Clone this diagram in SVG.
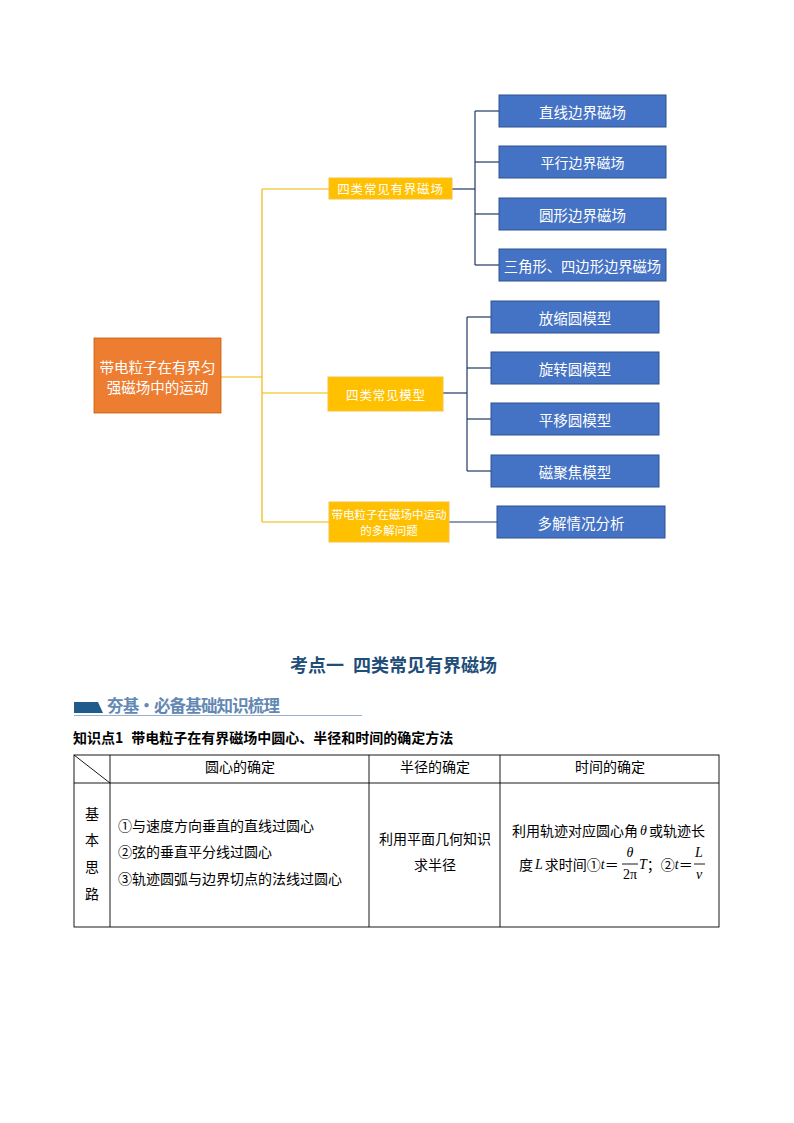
<svg xmlns="http://www.w3.org/2000/svg" width="794" height="1123" viewBox="0 0 794 1123">
<style>
  .cjk { font-family: "Noto Sans CJK SC", "Noto Sans", sans-serif; }
  .blue rect { fill: #4472C4; stroke: #2F528F; stroke-width: 1; }
  .yel rect { fill: #FFC000; stroke: #F5C242; stroke-width: 1; }
  .org rect { fill: #ED7D31; stroke: #C55A11; stroke-width: 0.8; }
  .nt { fill: #FFFFFF; text-anchor: middle; dominant-baseline: central; }
  .yl { stroke: #F2B705; stroke-width: 1.2; fill: none; }
  .dl { stroke: #1F3864; stroke-width: 1.2; fill: none; }
  .tl { stroke: #000000; stroke-width: 0.9; fill: none; }
  .tt { fill: #000000; font-size: 14px; dominant-baseline: central; }
  .mid { text-anchor: middle; }
  .it { font-family: "Liberation Serif", "DejaVu Serif", serif; font-style: italic; }
</style>
<rect width="794" height="1123" fill="#FFFFFF"/>

<g id="connectors">
  <polyline class="yl" points="221,377 262,377"/>
  <line class="yl" x1="262" y1="189" x2="262" y2="522"/>
  <line class="yl" x1="262" y1="189" x2="329" y2="189"/>
  <line class="yl" x1="262" y1="393" x2="328" y2="393"/>
  <line class="yl" x1="262" y1="522" x2="329" y2="522"/>

  <line class="dl" x1="452" y1="189" x2="475" y2="189"/>
  <line class="dl" x1="475" y1="111" x2="475" y2="265"/>
  <line class="dl" x1="475" y1="111" x2="499" y2="111"/>
  <line class="dl" x1="475" y1="162" x2="499" y2="162"/>
  <line class="dl" x1="475" y1="214" x2="499" y2="214"/>
  <line class="dl" x1="475" y1="265" x2="499" y2="265"/>

  <line class="dl" x1="443" y1="393" x2="467" y2="393"/>
  <line class="dl" x1="467" y1="317" x2="467" y2="471"/>
  <line class="dl" x1="467" y1="317" x2="491" y2="317"/>
  <line class="dl" x1="467" y1="368" x2="491" y2="368"/>
  <line class="dl" x1="467" y1="419" x2="491" y2="419"/>
  <line class="dl" x1="467" y1="471" x2="491" y2="471"/>

  <line class="dl" x1="449" y1="522" x2="497" y2="522"/>
</g>

<g id="root" class="org cjk">
  <rect x="94" y="338" width="127" height="75"/>
  <text class="nt" x="157.5" y="366" font-size="14.5">带电粒子在有界匀</text>
  <text class="nt" x="157.5" y="386" font-size="14.5">强磁场中的运动</text>
</g>

<g id="cat1" class="yel cjk">
  <rect x="329" y="178" width="123" height="21"/>
  <text class="nt" x="390.5" y="188.5" font-size="12.5" letter-spacing="0.8">四类常见有界磁场</text>
</g>
<g id="cat2" class="yel cjk">
  <rect x="328" y="377" width="115" height="34"/>
  <text class="nt" x="386" y="394" font-size="12.5" letter-spacing="0.8">四类常见模型</text>
</g>
<g id="cat3" class="yel cjk">
  <rect x="329" y="502" width="120" height="40"/>
  <text class="nt" x="389" y="514" font-size="11.5">带电粒子在磁场中运动</text>
  <text class="nt" x="389" y="530" font-size="11.5">的多解问题</text>
</g>

<g id="b1" class="blue cjk">
  <rect x="499" y="95" width="167" height="32"/>
  <text class="nt" x="582.5" y="111" font-size="14.5">直线边界磁场</text>
</g>
<g id="b2" class="blue cjk">
  <rect x="499" y="146" width="167" height="32"/>
  <text class="nt" x="582.5" y="162" font-size="14">平行边界磁场</text>
</g>
<g id="b3" class="blue cjk">
  <rect x="499" y="198" width="167" height="32"/>
  <text class="nt" x="582.5" y="214" font-size="14.5">圆形边界磁场</text>
</g>
<g id="b4" class="blue cjk">
  <rect x="499" y="249" width="167" height="32"/>
  <text class="nt" x="582.5" y="265" font-size="14.3">三角形、四边形边界磁场</text>
</g>

<g id="m1" class="blue cjk">
  <rect x="491" y="301" width="168" height="32"/>
  <text class="nt" x="575" y="317" font-size="14.5">放缩圆模型</text>
</g>
<g id="m2" class="blue cjk">
  <rect x="491" y="352" width="168" height="32"/>
  <text class="nt" x="575" y="368" font-size="14.5">旋转圆模型</text>
</g>
<g id="m3" class="blue cjk">
  <rect x="491" y="403" width="168" height="32"/>
  <text class="nt" x="575" y="419" font-size="14.5">平移圆模型</text>
</g>
<g id="m4" class="blue cjk">
  <rect x="491" y="455" width="168" height="32"/>
  <text class="nt" x="575" y="471" font-size="14.5">磁聚焦模型</text>
</g>

<g id="d1" class="blue cjk">
  <rect x="497" y="506" width="168" height="32"/>
  <text class="nt" x="581" y="522" font-size="14.5">多解情况分析</text>
</g>

<!-- Section heading -->
<text class="cjk" x="290" y="664" font-size="18" font-weight="bold" fill="#1F4E79" dominant-baseline="central">考点一<tspan dx="9">四类常见有界磁场</tspan></text>

<polygon points="74,702 98,702 103,713 74,713" fill="#1F5C8B"/>
<line x1="74" y1="715.5" x2="362" y2="715.5" stroke="#9BB1CC" stroke-width="1.2"/>
<text class="cjk" x="107" y="705" font-size="16.5" font-weight="bold" fill="#6388B4" dominant-baseline="central" textLength="173" lengthAdjust="spacing">夯基·必备基础知识梳理</text>

<text class="cjk" x="73" y="737" font-size="14" font-weight="bold" fill="#000000" dominant-baseline="central">知识点1<tspan dx="8">带电粒子在有界磁场中圆心、半径和时间的确定方法</tspan></text>

<!-- Table -->
<g id="table" class="cjk">
  <rect class="tl" x="74" y="755" width="645" height="172"/>
  <line class="tl" x1="74" y1="783" x2="719" y2="783"/>
  <line class="tl" x1="110" y1="755" x2="110" y2="927"/>
  <line class="tl" x1="369" y1="755" x2="369" y2="927"/>
  <line class="tl" x1="500" y1="755" x2="500" y2="927"/>
  <line class="tl" x1="74" y1="755" x2="110" y2="783"/>

  <text class="tt mid" x="240" y="766">圆心的确定</text>
  <text class="tt mid" x="435" y="766">半径的确定</text>
  <text class="tt mid" x="610" y="766">时间的确定</text>

  <text class="tt mid" x="92" y="813">基</text>
  <text class="tt mid" x="92" y="839">本</text>
  <text class="tt mid" x="92" y="866">思</text>
  <text class="tt mid" x="92" y="893">路</text>

  <text class="tt" x="118" y="825">①与速度方向垂直的直线过圆心</text>
  <text class="tt" x="118" y="851">②弦的垂直平分线过圆心</text>
  <text class="tt" x="118" y="878">③轨迹圆弧与边界切点的法线过圆心</text>

  <text class="tt mid" x="435" y="838">利用平面几何知识</text>
  <text class="tt mid" x="435" y="864">求半径</text>

  <text class="tt" x="512" y="830">利用轨迹对应圆心角<tspan class="it" dx="2">θ</tspan><tspan dx="2">或轨迹长</tspan></text>

  <text class="tt" x="519" y="864">度<tspan class="it" dx="2">L</tspan><tspan dx="2">求时间①</tspan><tspan class="it">t</tspan>＝</text>
  <text class="it" x="630" y="857" font-size="14" text-anchor="middle">θ</text>
  <line x1="622" y1="864" x2="638" y2="864" stroke="#000" stroke-width="0.9"/>
  <text x="630" y="879" font-size="14" text-anchor="middle" font-family="Liberation Serif, serif">2π</text>
  <text class="tt" x="639" y="864"><tspan class="it">T</tspan>；②<tspan class="it">t</tspan>＝</text>
  <text class="it" x="699" y="857" font-size="14" text-anchor="middle">L</text>
  <line x1="694" y1="864" x2="705" y2="864" stroke="#000" stroke-width="0.9"/>
  <text class="it" x="699" y="879" font-size="14" text-anchor="middle">v</text>
</g>
</svg>
